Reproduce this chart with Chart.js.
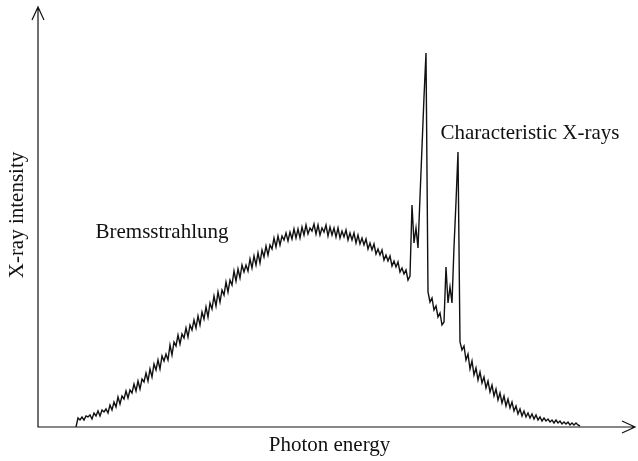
<!DOCTYPE html>
<html>
<head>
<meta charset="utf-8">
<script src="https://cdn.jsdelivr.net/npm/chart.js@4"></script>
<style>
  html, body { margin: 0; padding: 0; background: #fff; }
  #wrap { width: 638px; height: 461px; }
</style>
</head>
<body>
<div id="wrap"><canvas id="spectrum"></canvas></div>
<script>
// spectrum sampled per detector channel, first sample at channel 19
const firstChannel = 19;
const counts = [
  0,
  9, 7, 10, 7, 11, 10, 12, 8, 14, 11,
  16, 11, 17, 15, 18, 14, 22, 17, 25, 20,
  30, 23, 31, 28, 36, 29, 37, 34, 43, 36,
  46, 38, 48, 45, 54, 46, 58, 50, 63, 57,
  67, 58, 71, 66, 73, 67, 82, 72, 85, 81,
  92, 83, 93, 89, 99, 90, 102, 97, 107, 99,
  111, 102, 115, 108, 120, 110, 124, 118, 131, 121,
  135, 125, 137, 132, 145, 135, 147, 142, 156, 146,
  158, 149, 162, 155, 162, 156, 168, 159, 171, 162,
  174, 164, 177, 170, 181, 172, 182, 178, 189, 180,
  191, 182, 191, 187, 194, 186, 195, 188, 198, 189,
  198, 189, 200, 192, 202, 193, 199, 196, 203, 193,
  202, 192, 199, 195, 202, 191, 200, 192, 199, 190,
  199, 189, 196, 190, 197, 187, 194, 187, 194, 184,
  192, 183, 189, 182, 188, 178, 184, 177, 183, 173,
  178, 172, 177, 167, 172, 166, 171, 161, 166, 160,
  165, 155, 159, 153, 157, 147, 151,
  // K lines
  222, 184, 199, 179, 230, 280, 330, 374,
  135, 125, 129, 117, 121, 110, 114, 102, 105, 160, 124, 140, 124, 180, 225, 275,
  // tail
  85, 77, 81, 67, 73, 58, 66, 52, 59, 47,
  55, 44, 50, 39, 46, 35, 42, 31, 38, 27,
  34, 24, 31, 21, 28, 19, 25, 16, 21, 13,
  18, 11, 16, 10, 14, 9, 13, 8, 12, 7,
  10, 6, 9, 6, 8, 5, 7, 4, 7, 4,
  6, 3, 5, 3, 5, 2, 4, 2, 4, 2,
  1
];
const channelMax = 298.5;
const intensityMax = 420;

const xTitle = 'Photon energy';
const yTitle = 'X-ray intensity';
const notes = [
  { text: 'Bremsstrahlung', channel: 62, intensity: 195 },
  { text: 'Characteristic X-rays', channel: 246, intensity: 294 }
];

const points = counts.map((c, i) => ({ x: firstChannel + i, y: c }));

const FONT = '21px "Liberation Serif", "Times New Roman", serif';

// axes with arrow heads, axis titles and the two labels
const arrowAxes = {
  id: 'arrowAxes',
  beforeDatasetsDraw(chart) {
    const { ctx, scales: { x, y } } = chart;
    const x0 = x.getPixelForValue(0), y0 = y.getPixelForValue(0);
    const xEnd = x.getPixelForValue(channelMax);
    const yEnd = y.getPixelForValue(intensityMax);
    ctx.save();
    ctx.strokeStyle = '#111';
    ctx.lineWidth = 1.2;
    ctx.beginPath();
    ctx.moveTo(x0, yEnd);
    ctx.lineTo(x0, y0);
    ctx.lineTo(xEnd, y0);
    ctx.moveTo(x0 - 6, yEnd + 13);
    ctx.lineTo(x0, yEnd);
    ctx.lineTo(x0 + 6, yEnd + 13);
    ctx.moveTo(xEnd - 13, y0 - 6);
    ctx.lineTo(xEnd, y0);
    ctx.lineTo(xEnd - 13, y0 + 6);
    ctx.stroke();
    ctx.restore();
  },
  afterDraw(chart) {
    const { ctx, chartArea: a, scales: { x, y } } = chart;
    ctx.save();
    ctx.fillStyle = '#111';
    ctx.font = FONT;
    ctx.textAlign = 'center';
    ctx.textBaseline = 'middle';
    ctx.fillText(xTitle, (a.left + a.right) / 2 - 7, a.bottom + 18);
    ctx.save();
    ctx.translate(a.left - 21, (a.top + a.bottom) / 2 - 2);
    ctx.rotate(-Math.PI / 2);
    ctx.fillText(yTitle, 0, 0);
    ctx.restore();
    notes.forEach(n => {
      ctx.fillText(n.text, x.getPixelForValue(n.channel), y.getPixelForValue(n.intensity));
    });
    ctx.restore();
  }
};

new Chart(document.getElementById('spectrum'), {
  type: 'line',
  data: {
    datasets: [{
      data: points,
      borderColor: '#111',
      borderWidth: 1.4,
      pointRadius: 0,
      tension: 0,
      fill: false
    }]
  },
  options: {
    responsive: true,
    maintainAspectRatio: false,
    animation: false,
    layout: { padding: { left: 38, top: 7, right: 3, bottom: 34 } },
    plugins: { legend: { display: false }, tooltip: { enabled: false } },
    scales: {
      x: { type: 'linear', min: 0, max: channelMax, display: false },
      y: { min: 0, max: intensityMax, display: false }
    }
  },
  plugins: [arrowAxes]
});
</script>
</body>
</html>
